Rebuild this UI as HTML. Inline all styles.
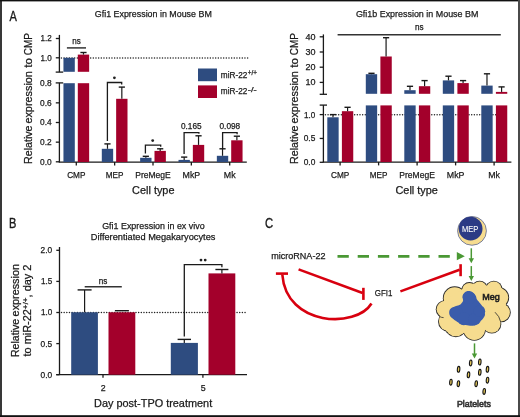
<!DOCTYPE html><html><head><meta charset="utf-8"><style>html,body{margin:0;padding:0;background:#fff;}svg{display:block;will-change:transform;}text{font-family:"Liberation Sans", sans-serif;}</style></head><body>
<svg width="520" height="417" viewBox="0 0 520 417">
<rect x="0.00" y="0.00" width="520.00" height="417.00" fill="#fff"/>
<text transform="translate(9.50,20.60) scale(0.8,1)" font-size="13.8" fill="#1a1a1a" stroke="#1a1a1a" stroke-width="0.35">A</text>
<text x="94.80" y="16.70" font-size="9.3" text-anchor="start" fill="#1a1a1a" stroke="#1a1a1a" stroke-width="0.25" textLength="117.00" lengthAdjust="spacingAndGlyphs">Gfi1 Expression in Mouse BM</text>
<line x1="59.40" y1="34.90" x2="59.40" y2="72.10" stroke="#1a1a1a" stroke-width="1.3"/>
<line x1="55.70" y1="72.10" x2="63.20" y2="72.10" stroke="#1a1a1a" stroke-width="1.3"/>
<line x1="55.70" y1="82.90" x2="63.20" y2="82.90" stroke="#1a1a1a" stroke-width="1.3"/>
<line x1="59.40" y1="82.90" x2="59.40" y2="162.30" stroke="#1a1a1a" stroke-width="1.3"/>
<line x1="55.80" y1="38.50" x2="59.40" y2="38.50" stroke="#1a1a1a" stroke-width="1.3"/>
<text x="51.70" y="41.40" font-size="8.7" text-anchor="end" fill="#1a1a1a" stroke="#1a1a1a" stroke-width="0.25" textLength="11.20" lengthAdjust="spacingAndGlyphs">1.2</text>
<line x1="55.80" y1="57.80" x2="59.40" y2="57.80" stroke="#1a1a1a" stroke-width="1.3"/>
<text x="51.70" y="60.70" font-size="8.7" text-anchor="end" fill="#1a1a1a" stroke="#1a1a1a" stroke-width="0.25" textLength="11.20" lengthAdjust="spacingAndGlyphs">1.0</text>
<text x="51.70" y="86.10" font-size="8.7" text-anchor="end" fill="#1a1a1a" stroke="#1a1a1a" stroke-width="0.25" textLength="11.60" lengthAdjust="spacingAndGlyphs">0.8</text>
<line x1="55.80" y1="102.85" x2="59.40" y2="102.85" stroke="#1a1a1a" stroke-width="1.3"/>
<text x="51.70" y="105.75" font-size="8.7" text-anchor="end" fill="#1a1a1a" stroke="#1a1a1a" stroke-width="0.25" textLength="11.60" lengthAdjust="spacingAndGlyphs">0.6</text>
<line x1="55.80" y1="122.50" x2="59.40" y2="122.50" stroke="#1a1a1a" stroke-width="1.3"/>
<text x="51.70" y="125.40" font-size="8.7" text-anchor="end" fill="#1a1a1a" stroke="#1a1a1a" stroke-width="0.25" textLength="11.60" lengthAdjust="spacingAndGlyphs">0.4</text>
<line x1="55.80" y1="142.15" x2="59.40" y2="142.15" stroke="#1a1a1a" stroke-width="1.3"/>
<text x="51.70" y="145.05" font-size="8.7" text-anchor="end" fill="#1a1a1a" stroke="#1a1a1a" stroke-width="0.25" textLength="11.60" lengthAdjust="spacingAndGlyphs">0.2</text>
<line x1="55.80" y1="161.80" x2="59.40" y2="161.80" stroke="#1a1a1a" stroke-width="1.3"/>
<text x="51.70" y="164.70" font-size="8.7" text-anchor="end" fill="#1a1a1a" stroke="#1a1a1a" stroke-width="0.25" textLength="11.60" lengthAdjust="spacingAndGlyphs">0.0</text>
<line x1="58.80" y1="162.10" x2="246.80" y2="162.10" stroke="#1a1a1a" stroke-width="1.3"/>
<line x1="76.30" y1="162.00" x2="76.30" y2="165.40" stroke="#1a1a1a" stroke-width="1.3"/>
<line x1="114.65" y1="162.00" x2="114.65" y2="165.40" stroke="#1a1a1a" stroke-width="1.3"/>
<line x1="153.00" y1="162.00" x2="153.00" y2="165.40" stroke="#1a1a1a" stroke-width="1.3"/>
<line x1="191.35" y1="162.00" x2="191.35" y2="165.40" stroke="#1a1a1a" stroke-width="1.3"/>
<line x1="229.70" y1="162.00" x2="229.70" y2="165.40" stroke="#1a1a1a" stroke-width="1.3"/>
<line x1="61.40" y1="57.90" x2="248.00" y2="57.90" stroke="#222" stroke-width="1.5" stroke-linecap="round" stroke-dasharray="0.01,2.65"/>
<rect x="63.45" y="57.80" width="11.35" height="14.00" fill="#2e4c80"/>
<rect x="77.80" y="54.60" width="11.35" height="17.20" fill="#a3002b"/>
<rect x="63.45" y="83.20" width="11.35" height="78.80" fill="#2e4c80"/>
<rect x="77.80" y="83.20" width="11.35" height="78.80" fill="#a3002b"/>
<line x1="83.47" y1="52.50" x2="83.47" y2="54.60" stroke="#1a1a1a" stroke-width="1.2"/>
<line x1="80.38" y1="52.50" x2="86.57" y2="52.50" stroke="#1a1a1a" stroke-width="1.4"/>
<rect x="101.80" y="148.80" width="11.35" height="13.20" fill="#2e4c80"/>
<rect x="116.15" y="98.80" width="11.35" height="63.20" fill="#a3002b"/>
<line x1="107.48" y1="143.90" x2="107.48" y2="148.80" stroke="#1a1a1a" stroke-width="1.2"/>
<line x1="104.38" y1="143.90" x2="110.58" y2="143.90" stroke="#1a1a1a" stroke-width="1.4"/>
<line x1="121.83" y1="87.10" x2="121.83" y2="98.80" stroke="#1a1a1a" stroke-width="1.2"/>
<line x1="118.73" y1="87.10" x2="124.92" y2="87.10" stroke="#1a1a1a" stroke-width="1.4"/>
<rect x="140.15" y="157.80" width="11.35" height="4.20" fill="#2e4c80"/>
<rect x="154.50" y="150.90" width="11.35" height="11.10" fill="#a3002b"/>
<line x1="145.83" y1="156.30" x2="145.83" y2="157.80" stroke="#1a1a1a" stroke-width="1.2"/>
<line x1="142.73" y1="156.30" x2="148.93" y2="156.30" stroke="#1a1a1a" stroke-width="1.4"/>
<line x1="160.18" y1="148.80" x2="160.18" y2="150.90" stroke="#1a1a1a" stroke-width="1.2"/>
<line x1="157.08" y1="148.80" x2="163.28" y2="148.80" stroke="#1a1a1a" stroke-width="1.4"/>
<rect x="178.50" y="159.90" width="11.35" height="2.10" fill="#2e4c80"/>
<rect x="192.85" y="144.90" width="11.35" height="17.10" fill="#a3002b"/>
<line x1="184.18" y1="157.10" x2="184.18" y2="159.90" stroke="#1a1a1a" stroke-width="1.2"/>
<line x1="181.08" y1="157.10" x2="187.28" y2="157.10" stroke="#1a1a1a" stroke-width="1.4"/>
<line x1="198.53" y1="135.80" x2="198.53" y2="144.90" stroke="#1a1a1a" stroke-width="1.2"/>
<line x1="195.43" y1="135.80" x2="201.63" y2="135.80" stroke="#1a1a1a" stroke-width="1.4"/>
<rect x="216.85" y="155.80" width="11.35" height="6.20" fill="#2e4c80"/>
<rect x="231.20" y="140.30" width="11.35" height="21.70" fill="#a3002b"/>
<line x1="222.53" y1="148.80" x2="222.53" y2="155.80" stroke="#1a1a1a" stroke-width="1.2"/>
<line x1="219.43" y1="148.80" x2="225.62" y2="148.80" stroke="#1a1a1a" stroke-width="1.4"/>
<line x1="236.88" y1="136.20" x2="236.88" y2="140.30" stroke="#1a1a1a" stroke-width="1.2"/>
<line x1="233.78" y1="136.20" x2="239.97" y2="136.20" stroke="#1a1a1a" stroke-width="1.4"/>
<line x1="66.90" y1="47.90" x2="86.00" y2="47.90" stroke="#333" stroke-width="1.5"/>
<text x="72.30" y="43.80" font-size="8.9" text-anchor="start" fill="#1a1a1a" stroke="#1a1a1a" stroke-width="0.25" textLength="8.50" lengthAdjust="spacingAndGlyphs">ns</text>
<polyline points="107.40,141.00 107.40,82.50 121.70,82.50 121.70,84.40" fill="none" stroke="#1a1a1a" stroke-width="1.3"/>
<circle cx="114.4" cy="77.8" r="1.4" fill="#222"/>
<polyline points="145.40,153.40 145.40,145.10 160.70,145.10 160.70,146.80" fill="none" stroke="#1a1a1a" stroke-width="1.3"/>
<circle cx="152.7" cy="140.6" r="1.4" fill="#222"/>
<polyline points="184.10,154.00 184.10,132.60 198.90,132.60 198.90,133.80" fill="none" stroke="#1a1a1a" stroke-width="1.3"/>
<text x="181.00" y="128.80" font-size="8.8" text-anchor="start" fill="#1a1a1a" stroke="#1a1a1a" stroke-width="0.25" textLength="20.60" lengthAdjust="spacingAndGlyphs">0.165</text>
<polyline points="222.60,149.00 222.60,132.60 237.10,132.60 237.10,134.20" fill="none" stroke="#1a1a1a" stroke-width="1.3"/>
<text x="219.50" y="128.80" font-size="8.8" text-anchor="start" fill="#1a1a1a" stroke="#1a1a1a" stroke-width="0.25" textLength="20.70" lengthAdjust="spacingAndGlyphs">0.098</text>
<rect x="198.00" y="68.50" width="19.00" height="12.70" fill="#2e4c80"/>
<rect x="198.00" y="85.40" width="19.00" height="12.60" fill="#a3002b"/>
<text x="220.80" y="77.70" font-size="8.8" text-anchor="start" fill="#1a1a1a" stroke="#1a1a1a" stroke-width="0.25" textLength="26.50" lengthAdjust="spacingAndGlyphs">miR-22</text>
<text x="247.80" y="75.20" font-size="6.6" text-anchor="start" fill="#1a1a1a" stroke="#1a1a1a" stroke-width="0.25" textLength="9.20" lengthAdjust="spacingAndGlyphs">+/+</text>
<text x="220.80" y="94.40" font-size="8.8" text-anchor="start" fill="#1a1a1a" stroke="#1a1a1a" stroke-width="0.25" textLength="26.50" lengthAdjust="spacingAndGlyphs">miR-22</text>
<text x="247.80" y="91.90" font-size="6.8" text-anchor="start" fill="#1a1a1a" stroke="#1a1a1a" stroke-width="0.25" textLength="8.80" lengthAdjust="spacingAndGlyphs">-/-</text>
<text x="76.30" y="178.30" font-size="9.5" text-anchor="middle" fill="#1a1a1a" stroke="#1a1a1a" stroke-width="0.25" textLength="18.30" lengthAdjust="spacingAndGlyphs">CMP</text>
<text x="114.65" y="178.30" font-size="9.5" text-anchor="middle" fill="#1a1a1a" stroke="#1a1a1a" stroke-width="0.25" textLength="17.70" lengthAdjust="spacingAndGlyphs">MEP</text>
<text x="153.00" y="178.30" font-size="9.5" text-anchor="middle" fill="#1a1a1a" stroke="#1a1a1a" stroke-width="0.25" textLength="35.60" lengthAdjust="spacingAndGlyphs">PreMegE</text>
<text x="191.35" y="178.30" font-size="9.5" text-anchor="middle" fill="#1a1a1a" stroke="#1a1a1a" stroke-width="0.25" textLength="17.60" lengthAdjust="spacingAndGlyphs">MkP</text>
<text x="229.70" y="178.30" font-size="9.5" text-anchor="middle" fill="#1a1a1a" stroke="#1a1a1a" stroke-width="0.25" textLength="11.80" lengthAdjust="spacingAndGlyphs">Mk</text>
<text x="132.10" y="194.20" font-size="10.8" text-anchor="start" fill="#1a1a1a" stroke="#1a1a1a" stroke-width="0.25" textLength="42.40" lengthAdjust="spacingAndGlyphs">Cell type</text>
<text transform="translate(31.7,163.9) rotate(-90)" font-size="11" textLength="38.40" lengthAdjust="spacingAndGlyphs" fill="#1a1a1a" stroke="#1a1a1a" stroke-width="0.25">Relative</text>
<text transform="translate(31.7,123.6) rotate(-90)" font-size="11" textLength="52.50" lengthAdjust="spacingAndGlyphs" fill="#1a1a1a" stroke="#1a1a1a" stroke-width="0.25">expression</text>
<text transform="translate(31.7,67.8) rotate(-90)" font-size="11" textLength="9.60" lengthAdjust="spacingAndGlyphs" fill="#1a1a1a" stroke="#1a1a1a" stroke-width="0.25">to</text>
<text transform="translate(31.7,55.2) rotate(-90)" font-size="11" textLength="22.20" lengthAdjust="spacingAndGlyphs" fill="#1a1a1a" stroke="#1a1a1a" stroke-width="0.25">CMP</text>
<text x="355.90" y="17.10" font-size="9.3" text-anchor="start" fill="#1a1a1a" stroke="#1a1a1a" stroke-width="0.25" textLength="122.50" lengthAdjust="spacingAndGlyphs">Gfi1b Expression in Mouse BM</text>
<line x1="323.40" y1="34.40" x2="323.40" y2="94.30" stroke="#1a1a1a" stroke-width="1.3"/>
<line x1="319.70" y1="94.30" x2="327.00" y2="94.30" stroke="#1a1a1a" stroke-width="1.3"/>
<line x1="319.70" y1="105.10" x2="327.00" y2="105.10" stroke="#1a1a1a" stroke-width="1.3"/>
<line x1="323.40" y1="105.10" x2="323.40" y2="162.30" stroke="#1a1a1a" stroke-width="1.3"/>
<line x1="319.70" y1="36.80" x2="323.40" y2="36.80" stroke="#1a1a1a" stroke-width="1.3"/>
<text x="315.60" y="39.70" font-size="8.7" text-anchor="end" fill="#1a1a1a" stroke="#1a1a1a" stroke-width="0.25" textLength="10.00" lengthAdjust="spacingAndGlyphs">40</text>
<line x1="319.70" y1="52.00" x2="323.40" y2="52.00" stroke="#1a1a1a" stroke-width="1.3"/>
<text x="315.60" y="54.90" font-size="8.7" text-anchor="end" fill="#1a1a1a" stroke="#1a1a1a" stroke-width="0.25" textLength="10.00" lengthAdjust="spacingAndGlyphs">30</text>
<line x1="319.70" y1="67.20" x2="323.40" y2="67.20" stroke="#1a1a1a" stroke-width="1.3"/>
<text x="315.60" y="70.10" font-size="8.7" text-anchor="end" fill="#1a1a1a" stroke="#1a1a1a" stroke-width="0.25" textLength="10.00" lengthAdjust="spacingAndGlyphs">20</text>
<line x1="319.70" y1="82.40" x2="323.40" y2="82.40" stroke="#1a1a1a" stroke-width="1.3"/>
<text x="315.60" y="85.30" font-size="8.7" text-anchor="end" fill="#1a1a1a" stroke="#1a1a1a" stroke-width="0.25" textLength="10.00" lengthAdjust="spacingAndGlyphs">10</text>
<line x1="319.70" y1="114.60" x2="323.40" y2="114.60" stroke="#1a1a1a" stroke-width="1.3"/>
<text x="315.30" y="117.50" font-size="8.7" text-anchor="end" fill="#1a1a1a" stroke="#1a1a1a" stroke-width="0.25" textLength="11.20" lengthAdjust="spacingAndGlyphs">1.0</text>
<line x1="319.70" y1="138.45" x2="323.40" y2="138.45" stroke="#1a1a1a" stroke-width="1.3"/>
<text x="315.30" y="141.35" font-size="8.7" text-anchor="end" fill="#1a1a1a" stroke="#1a1a1a" stroke-width="0.25" textLength="11.60" lengthAdjust="spacingAndGlyphs">0.5</text>
<line x1="319.70" y1="162.30" x2="323.40" y2="162.30" stroke="#1a1a1a" stroke-width="1.3"/>
<text x="315.30" y="165.20" font-size="8.7" text-anchor="end" fill="#1a1a1a" stroke="#1a1a1a" stroke-width="0.25" textLength="11.60" lengthAdjust="spacingAndGlyphs">0.0</text>
<line x1="322.80" y1="162.10" x2="511.40" y2="162.10" stroke="#1a1a1a" stroke-width="1.3"/>
<line x1="340.10" y1="162.00" x2="340.10" y2="165.40" stroke="#1a1a1a" stroke-width="1.3"/>
<line x1="378.60" y1="162.00" x2="378.60" y2="165.40" stroke="#1a1a1a" stroke-width="1.3"/>
<line x1="417.10" y1="162.00" x2="417.10" y2="165.40" stroke="#1a1a1a" stroke-width="1.3"/>
<line x1="455.60" y1="162.00" x2="455.60" y2="165.40" stroke="#1a1a1a" stroke-width="1.3"/>
<line x1="494.10" y1="162.00" x2="494.10" y2="165.40" stroke="#1a1a1a" stroke-width="1.3"/>
<line x1="325.40" y1="114.70" x2="508.40" y2="114.70" stroke="#222" stroke-width="1.5" stroke-linecap="round" stroke-dasharray="0.01,2.65"/>
<rect x="327.30" y="117.30" width="11.35" height="44.70" fill="#2e4c80"/>
<rect x="341.90" y="111.20" width="11.35" height="50.80" fill="#a3002b"/>
<line x1="332.98" y1="114.60" x2="332.98" y2="117.30" stroke="#1a1a1a" stroke-width="1.2"/>
<line x1="329.88" y1="114.60" x2="336.08" y2="114.60" stroke="#1a1a1a" stroke-width="1.4"/>
<line x1="347.58" y1="107.30" x2="347.58" y2="111.20" stroke="#1a1a1a" stroke-width="1.2"/>
<line x1="344.48" y1="107.30" x2="350.68" y2="107.30" stroke="#1a1a1a" stroke-width="1.4"/>
<rect x="365.80" y="74.20" width="11.35" height="19.60" fill="#2e4c80"/>
<rect x="380.40" y="56.50" width="11.35" height="37.30" fill="#a3002b"/>
<rect x="365.80" y="105.40" width="11.35" height="56.60" fill="#2e4c80"/>
<rect x="380.40" y="105.40" width="11.35" height="56.60" fill="#a3002b"/>
<line x1="371.48" y1="73.30" x2="371.48" y2="74.20" stroke="#1a1a1a" stroke-width="1.2"/>
<line x1="368.38" y1="73.30" x2="374.58" y2="73.30" stroke="#1a1a1a" stroke-width="1.4"/>
<line x1="386.08" y1="37.70" x2="386.08" y2="56.50" stroke="#1a1a1a" stroke-width="1.2"/>
<line x1="382.98" y1="37.70" x2="389.18" y2="37.70" stroke="#1a1a1a" stroke-width="1.4"/>
<rect x="404.30" y="90.20" width="11.35" height="3.60" fill="#2e4c80"/>
<rect x="418.90" y="86.20" width="11.35" height="7.60" fill="#a3002b"/>
<rect x="404.30" y="105.40" width="11.35" height="56.60" fill="#2e4c80"/>
<rect x="418.90" y="105.40" width="11.35" height="56.60" fill="#a3002b"/>
<line x1="409.98" y1="86.30" x2="409.98" y2="90.20" stroke="#1a1a1a" stroke-width="1.2"/>
<line x1="406.88" y1="86.30" x2="413.08" y2="86.30" stroke="#1a1a1a" stroke-width="1.4"/>
<line x1="424.58" y1="80.60" x2="424.58" y2="86.20" stroke="#1a1a1a" stroke-width="1.2"/>
<line x1="421.48" y1="80.60" x2="427.68" y2="80.60" stroke="#1a1a1a" stroke-width="1.4"/>
<rect x="442.80" y="80.40" width="11.35" height="13.40" fill="#2e4c80"/>
<rect x="457.40" y="83.10" width="11.35" height="10.70" fill="#a3002b"/>
<rect x="442.80" y="105.40" width="11.35" height="56.60" fill="#2e4c80"/>
<rect x="457.40" y="105.40" width="11.35" height="56.60" fill="#a3002b"/>
<line x1="448.48" y1="76.20" x2="448.48" y2="80.40" stroke="#1a1a1a" stroke-width="1.2"/>
<line x1="445.38" y1="76.20" x2="451.58" y2="76.20" stroke="#1a1a1a" stroke-width="1.4"/>
<line x1="463.08" y1="80.60" x2="463.08" y2="83.10" stroke="#1a1a1a" stroke-width="1.2"/>
<line x1="459.98" y1="80.60" x2="466.18" y2="80.60" stroke="#1a1a1a" stroke-width="1.4"/>
<rect x="481.30" y="85.60" width="11.35" height="8.20" fill="#2e4c80"/>
<rect x="495.90" y="91.90" width="11.35" height="1.90" fill="#a3002b"/>
<rect x="481.30" y="105.40" width="11.35" height="56.60" fill="#2e4c80"/>
<rect x="495.90" y="105.40" width="11.35" height="56.60" fill="#a3002b"/>
<line x1="486.98" y1="73.80" x2="486.98" y2="85.60" stroke="#1a1a1a" stroke-width="1.2"/>
<line x1="483.88" y1="73.80" x2="490.08" y2="73.80" stroke="#1a1a1a" stroke-width="1.4"/>
<line x1="501.58" y1="86.90" x2="501.58" y2="91.90" stroke="#1a1a1a" stroke-width="1.2"/>
<line x1="498.48" y1="86.90" x2="504.68" y2="86.90" stroke="#1a1a1a" stroke-width="1.4"/>
<line x1="337.60" y1="34.80" x2="500.80" y2="34.80" stroke="#333" stroke-width="1.5"/>
<text x="415.00" y="30.40" font-size="8.9" text-anchor="start" fill="#1a1a1a" stroke="#1a1a1a" stroke-width="0.25" textLength="8.60" lengthAdjust="spacingAndGlyphs">ns</text>
<text x="340.10" y="178.10" font-size="9.5" text-anchor="middle" fill="#1a1a1a" stroke="#1a1a1a" stroke-width="0.25" textLength="18.30" lengthAdjust="spacingAndGlyphs">CMP</text>
<text x="378.60" y="178.10" font-size="9.5" text-anchor="middle" fill="#1a1a1a" stroke="#1a1a1a" stroke-width="0.25" textLength="17.70" lengthAdjust="spacingAndGlyphs">MEP</text>
<text x="417.10" y="178.10" font-size="9.5" text-anchor="middle" fill="#1a1a1a" stroke="#1a1a1a" stroke-width="0.25" textLength="35.60" lengthAdjust="spacingAndGlyphs">PreMegE</text>
<text x="455.60" y="178.10" font-size="9.5" text-anchor="middle" fill="#1a1a1a" stroke="#1a1a1a" stroke-width="0.25" textLength="17.60" lengthAdjust="spacingAndGlyphs">MkP</text>
<text x="494.10" y="178.10" font-size="9.5" text-anchor="middle" fill="#1a1a1a" stroke="#1a1a1a" stroke-width="0.25" textLength="11.80" lengthAdjust="spacingAndGlyphs">Mk</text>
<text x="395.50" y="193.70" font-size="10.8" text-anchor="start" fill="#1a1a1a" stroke="#1a1a1a" stroke-width="0.25" textLength="42.40" lengthAdjust="spacingAndGlyphs">Cell type</text>
<text transform="translate(297.8,163.9) rotate(-90)" font-size="11" textLength="38.40" lengthAdjust="spacingAndGlyphs" fill="#1a1a1a" stroke="#1a1a1a" stroke-width="0.25">Relative</text>
<text transform="translate(297.8,123.6) rotate(-90)" font-size="11" textLength="52.50" lengthAdjust="spacingAndGlyphs" fill="#1a1a1a" stroke="#1a1a1a" stroke-width="0.25">expression</text>
<text transform="translate(297.8,67.8) rotate(-90)" font-size="11" textLength="9.60" lengthAdjust="spacingAndGlyphs" fill="#1a1a1a" stroke="#1a1a1a" stroke-width="0.25">to</text>
<text transform="translate(297.8,55.2) rotate(-90)" font-size="11" textLength="22.20" lengthAdjust="spacingAndGlyphs" fill="#1a1a1a" stroke="#1a1a1a" stroke-width="0.25">CMP</text>
<text transform="translate(9.00,227.80) scale(0.8,1)" font-size="13.8" fill="#1a1a1a" stroke="#1a1a1a" stroke-width="0.35">B</text>
<text x="102.20" y="229.00" font-size="9.3" text-anchor="start" fill="#1a1a1a" stroke="#1a1a1a" stroke-width="0.25" textLength="102.40" lengthAdjust="spacingAndGlyphs">Gfi1 Expression in ex vivo</text>
<text x="90.80" y="239.80" font-size="9.3" text-anchor="start" fill="#1a1a1a" stroke="#1a1a1a" stroke-width="0.25" textLength="124.60" lengthAdjust="spacingAndGlyphs">Differentiated Megakaryocytes</text>
<line x1="59.50" y1="247.00" x2="59.50" y2="374.70" stroke="#1a1a1a" stroke-width="1.3"/>
<line x1="56.30" y1="250.30" x2="59.50" y2="250.30" stroke="#1a1a1a" stroke-width="1.3"/>
<text x="52.20" y="253.20" font-size="8.7" text-anchor="end" fill="#1a1a1a" stroke="#1a1a1a" stroke-width="0.25" textLength="11.60" lengthAdjust="spacingAndGlyphs">2.0</text>
<line x1="56.30" y1="281.40" x2="59.50" y2="281.40" stroke="#1a1a1a" stroke-width="1.3"/>
<text x="52.20" y="284.30" font-size="8.7" text-anchor="end" fill="#1a1a1a" stroke="#1a1a1a" stroke-width="0.25" textLength="11.20" lengthAdjust="spacingAndGlyphs">1.5</text>
<line x1="56.30" y1="312.50" x2="59.50" y2="312.50" stroke="#1a1a1a" stroke-width="1.3"/>
<text x="52.20" y="315.40" font-size="8.7" text-anchor="end" fill="#1a1a1a" stroke="#1a1a1a" stroke-width="0.25" textLength="11.20" lengthAdjust="spacingAndGlyphs">1.0</text>
<line x1="56.30" y1="343.60" x2="59.50" y2="343.60" stroke="#1a1a1a" stroke-width="1.3"/>
<text x="52.20" y="346.50" font-size="8.7" text-anchor="end" fill="#1a1a1a" stroke="#1a1a1a" stroke-width="0.25" textLength="11.60" lengthAdjust="spacingAndGlyphs">0.5</text>
<line x1="56.30" y1="374.70" x2="59.50" y2="374.70" stroke="#1a1a1a" stroke-width="1.3"/>
<text x="52.20" y="377.60" font-size="8.7" text-anchor="end" fill="#1a1a1a" stroke="#1a1a1a" stroke-width="0.25" textLength="11.60" lengthAdjust="spacingAndGlyphs">0.0</text>
<line x1="56.20" y1="374.70" x2="247.00" y2="374.70" stroke="#1a1a1a" stroke-width="1.3"/>
<line x1="103.00" y1="374.70" x2="103.00" y2="377.80" stroke="#1a1a1a" stroke-width="1.3"/>
<line x1="202.90" y1="374.70" x2="202.90" y2="377.80" stroke="#1a1a1a" stroke-width="1.3"/>
<line x1="61.50" y1="312.40" x2="247.00" y2="312.40" stroke="#222" stroke-width="1.5" stroke-linecap="round" stroke-dasharray="0.01,2.65"/>
<rect x="71.20" y="312.30" width="26.70" height="62.40" fill="#2e4c80"/>
<rect x="108.50" y="312.30" width="26.80" height="62.40" fill="#a3002b"/>
<line x1="84.60" y1="289.90" x2="84.60" y2="312.30" stroke="#1a1a1a" stroke-width="1.2"/>
<line x1="77.60" y1="289.90" x2="91.60" y2="289.90" stroke="#1a1a1a" stroke-width="1.4"/>
<line x1="114.90" y1="310.70" x2="128.90" y2="310.70" stroke="#1a1a1a" stroke-width="1.4"/>
<rect x="170.80" y="342.90" width="27.10" height="31.80" fill="#2e4c80"/>
<rect x="208.50" y="273.40" width="26.80" height="101.30" fill="#a3002b"/>
<line x1="184.30" y1="339.40" x2="184.30" y2="342.90" stroke="#1a1a1a" stroke-width="1.2"/>
<line x1="177.60" y1="339.40" x2="191.00" y2="339.40" stroke="#1a1a1a" stroke-width="1.4"/>
<line x1="221.90" y1="269.50" x2="221.90" y2="273.40" stroke="#1a1a1a" stroke-width="1.2"/>
<line x1="215.40" y1="269.50" x2="228.40" y2="269.50" stroke="#1a1a1a" stroke-width="1.4"/>
<line x1="84.70" y1="286.80" x2="121.80" y2="286.80" stroke="#333" stroke-width="1.5"/>
<text x="98.70" y="283.60" font-size="8.9" text-anchor="start" fill="#1a1a1a" stroke="#1a1a1a" stroke-width="0.25" textLength="8.60" lengthAdjust="spacingAndGlyphs">ns</text>
<polyline points="184.30,336.50 184.30,264.60 221.90,264.60 221.90,267.30" fill="none" stroke="#1a1a1a" stroke-width="1.3"/>
<circle cx="201.0" cy="260.1" r="1.4" fill="#222"/>
<circle cx="205.2" cy="260.1" r="1.4" fill="#222"/>
<text x="103.10" y="390.70" font-size="9.6" text-anchor="middle" fill="#1a1a1a" stroke="#1a1a1a" stroke-width="0.25" textLength="4.90" lengthAdjust="spacingAndGlyphs">2</text>
<text x="203.10" y="390.70" font-size="9.6" text-anchor="middle" fill="#1a1a1a" stroke="#1a1a1a" stroke-width="0.25" textLength="4.90" lengthAdjust="spacingAndGlyphs">5</text>
<text x="94.10" y="407.00" font-size="10.6" text-anchor="start" fill="#1a1a1a" stroke="#1a1a1a" stroke-width="0.25" textLength="118.10" lengthAdjust="spacingAndGlyphs">Day post-TPO treatment</text>
<text transform="translate(18.6,357.0) rotate(-90)" font-size="10.8" textLength="38.00" lengthAdjust="spacingAndGlyphs" fill="#1a1a1a" stroke="#1a1a1a" stroke-width="0.25">Relative</text>
<text transform="translate(18.6,316.4) rotate(-90)" font-size="10.8" textLength="52.40" lengthAdjust="spacingAndGlyphs" fill="#1a1a1a" stroke="#1a1a1a" stroke-width="0.25">expression</text>
<text transform="translate(31.3,356.5) rotate(-90)" font-size="10.8" textLength="91.9" lengthAdjust="spacingAndGlyphs" fill="#1a1a1a" stroke="#1a1a1a" stroke-width="0.25">to miR-22<tspan font-size="8" dy="-3.8">+/+</tspan><tspan dy="3.8">, day 2</tspan></text>
<text transform="translate(264.90,227.80) scale(0.82,1)" font-size="13.8" fill="#1a1a1a" stroke="#1a1a1a" stroke-width="0.35">C</text>
<text x="271.20" y="258.90" font-size="9.4" text-anchor="start" fill="#1a1a1a" stroke="#1a1a1a" stroke-width="0.25" textLength="54.30" lengthAdjust="spacingAndGlyphs">microRNA-22</text>
<text x="374.80" y="296.20" font-size="9.9" text-anchor="start" fill="#1a1a1a" stroke="#1a1a1a" stroke-width="0.25" textLength="17.60" lengthAdjust="spacingAndGlyphs">GFI1</text>
<line x1="337.5" y1="256.4" x2="450" y2="256.4" stroke="#4a9834" stroke-width="2.7" stroke-dasharray="11.3,8.9"/>
<polygon points="456.8,252.1 464.8,256.2 456.8,260.2" fill="#4a9834"/>
<line x1="298.60" y1="269.40" x2="362.60" y2="293.00" stroke="#d8000f" stroke-width="2.6"/>
<line x1="363.40" y1="287.80" x2="363.40" y2="299.90" stroke="#d8000f" stroke-width="2.6"/>
<line x1="400.40" y1="291.40" x2="459.60" y2="269.80" stroke="#d8000f" stroke-width="2.6"/>
<line x1="460.60" y1="264.20" x2="460.60" y2="276.20" stroke="#d8000f" stroke-width="2.6"/>
<path d="M371.5,303.5 C356.3,328.4 286.2,326.7 282.3,274.5" fill="none" stroke="#d8000f" stroke-width="2.6"/>
<line x1="275.90" y1="273.60" x2="288.00" y2="273.60" stroke="#d8000f" stroke-width="2.6"/>
<circle cx="472.0" cy="230.85" r="14.4" fill="#f6dc8f" stroke="#5a6690" stroke-width="0.8"/>
<circle cx="470.6" cy="228.7" r="11.9" fill="#2b3a85"/>
<text x="470.20" y="231.60" font-size="9.4" text-anchor="middle" fill="#fff" stroke="#fff" stroke-width="0.1" textLength="16.30" lengthAdjust="spacingAndGlyphs">MEP</text>
<line x1="471.30" y1="248.30" x2="471.30" y2="260.20" stroke="#4a9834" stroke-width="1.5"/>
<polygon points="468.60,258.20 471.30,263.20 474.00,258.20" fill="#4a9834"/>
<line x1="471.30" y1="266.10" x2="471.30" y2="278.00" stroke="#4a9834" stroke-width="1.5"/>
<polygon points="468.60,276.00 471.30,281.00 474.00,276.00" fill="#4a9834"/>
<line x1="474.50" y1="343.40" x2="474.50" y2="355.40" stroke="#4a9834" stroke-width="1.5"/>
<polygon points="471.80,353.40 474.50,358.40 477.20,353.40" fill="#4a9834"/>
<g fill="#2a2a2a"><circle cx="454.7" cy="298.2" r="11.85"/><circle cx="469.4" cy="290.2" r="8.15"/><circle cx="479.6" cy="288.9" r="8.25"/><circle cx="493.8" cy="289.3" r="8.65"/><circle cx="498.5" cy="297.6" r="10.65"/><circle cx="501.0" cy="312.5" r="9.75"/><circle cx="491.8" cy="324.0" r="9.55"/><circle cx="474.3" cy="329.1" r="11.65"/><circle cx="455.8" cy="325.9" r="11.25"/><circle cx="448.6" cy="321.4" r="10.55"/><circle cx="444.8" cy="309.3" r="9.05"/></g><g fill="#f6dc8f"><circle cx="454.7" cy="298.2" r="11.00"/><circle cx="469.4" cy="290.2" r="7.30"/><circle cx="479.6" cy="288.9" r="7.40"/><circle cx="493.8" cy="289.3" r="7.80"/><circle cx="498.5" cy="297.6" r="9.80"/><circle cx="501.0" cy="312.5" r="8.90"/><circle cx="491.8" cy="324.0" r="8.70"/><circle cx="474.3" cy="329.1" r="10.80"/><circle cx="455.8" cy="325.9" r="10.40"/><circle cx="448.6" cy="321.4" r="9.70"/><circle cx="444.8" cy="309.3" r="8.20"/><polygon points="443.6,301 461.8,289.4 473.5,283.5 486.4,285.6 501.7,288 506,304.8 500.8,322.3 485.4,330 463.7,332.9 446.5,331.4 439.8,316.6"/></g>
<path d="M495,312.2 Q499.5,316 500.8,322.3 M439.8,316.6 Q441.5,317.6 443.6,317.6" fill="none" stroke="#2a2a2a" stroke-width="0.8"/>
<g fill="#3a5cab"><path d="M468.50,291.00 C469.80,291.00 471.42,291.67 472.60,292.40 C473.78,293.13 474.87,294.20 475.60,295.40 C476.33,296.60 476.37,298.43 477.00,299.60 C477.63,300.77 478.53,301.33 479.40,302.40 C480.27,303.47 481.47,304.67 482.20,306.00 C482.93,307.33 483.33,309.00 483.80,310.40 C484.27,311.80 485.03,313.17 485.00,314.40 C484.97,315.63 484.23,316.77 483.60,317.80 C482.97,318.83 482.20,319.73 481.20,320.60 C480.20,321.47 478.83,322.17 477.60,323.00 C476.37,323.83 475.32,325.17 473.80,325.60 C472.28,326.03 470.33,325.77 468.50,325.60 C466.67,325.43 464.45,325.10 462.80,324.60 C461.15,324.10 460.13,323.50 458.60,322.60 C457.07,321.70 455.03,320.33 453.60,319.20 C452.17,318.07 450.73,317.03 450.00,315.80 C449.27,314.57 449.07,313.03 449.20,311.80 C449.33,310.57 449.73,309.33 450.80,308.40 C451.87,307.47 454.00,306.87 455.60,306.20 C457.20,305.53 459.13,305.33 460.40,304.40 C461.67,303.47 462.83,302.03 463.20,300.60 C463.57,299.17 462.33,297.17 462.60,295.80 C462.87,294.43 463.82,293.20 464.80,292.40 C465.78,291.60 467.20,291.00 468.50,291.00Z"/><circle cx="469.0" cy="297.6" r="6.4"/><circle cx="456.6" cy="313.0" r="6.6"/><circle cx="463.8" cy="318.6" r="6.6"/><circle cx="474.6" cy="319.2" r="6.2"/><circle cx="479.4" cy="311.2" r="5.8"/></g>
<text x="482.30" y="300.30" font-size="9.2" text-anchor="start" fill="#222" stroke="#222" stroke-width="0.6" textLength="17.60" lengthAdjust="spacingAndGlyphs">Meg</text>
<ellipse cx="470.7" cy="362.9" rx="1.25" ry="2.95" transform="rotate(5 470.7 362.9)" fill="#e4c85a" stroke="#151515" stroke-width="1.1"/>
<ellipse cx="479.8" cy="362.0" rx="1.25" ry="2.95" transform="rotate(5 479.8 362.0)" fill="#e4c85a" stroke="#151515" stroke-width="1.1"/>
<ellipse cx="458.6" cy="369.3" rx="1.25" ry="2.95" transform="rotate(5 458.6 369.3)" fill="#e4c85a" stroke="#151515" stroke-width="1.1"/>
<ellipse cx="487.5" cy="369.3" rx="1.25" ry="2.95" transform="rotate(5 487.5 369.3)" fill="#e4c85a" stroke="#151515" stroke-width="1.1"/>
<ellipse cx="479.8" cy="372.3" rx="1.25" ry="2.95" transform="rotate(5 479.8 372.3)" fill="#e4c85a" stroke="#151515" stroke-width="1.1"/>
<ellipse cx="468.5" cy="374.8" rx="1.25" ry="2.95" transform="rotate(5 468.5 374.8)" fill="#e4c85a" stroke="#151515" stroke-width="1.1"/>
<ellipse cx="450.9" cy="382.2" rx="1.25" ry="2.95" transform="rotate(5 450.9 382.2)" fill="#e4c85a" stroke="#151515" stroke-width="1.1"/>
<ellipse cx="458.4" cy="383.7" rx="1.25" ry="2.95" transform="rotate(5 458.4 383.7)" fill="#e4c85a" stroke="#151515" stroke-width="1.1"/>
<ellipse cx="476.2" cy="383.7" rx="1.25" ry="2.95" transform="rotate(5 476.2 383.7)" fill="#e4c85a" stroke="#151515" stroke-width="1.1"/>
<ellipse cx="487.5" cy="380.2" rx="1.25" ry="2.95" transform="rotate(5 487.5 380.2)" fill="#e4c85a" stroke="#151515" stroke-width="1.1"/>
<ellipse cx="484.2" cy="391.4" rx="1.25" ry="2.95" transform="rotate(5 484.2 391.4)" fill="#e4c85a" stroke="#151515" stroke-width="1.1"/>
<text x="456.90" y="406.90" font-size="9.0" text-anchor="start" fill="#333" stroke="#333" stroke-width="0.6" textLength="34.00" lengthAdjust="spacingAndGlyphs">Platelets</text>
<rect x="0" y="0" width="2" height="417" fill="#383838"/>
<rect x="0" y="0" width="520" height="1.4" fill="#111"/>
<rect x="518" y="0" width="2" height="417" fill="#4a4a4a"/>
<rect x="0" y="415.2" width="520" height="1.8" fill="#111"/>
</svg></body></html>
